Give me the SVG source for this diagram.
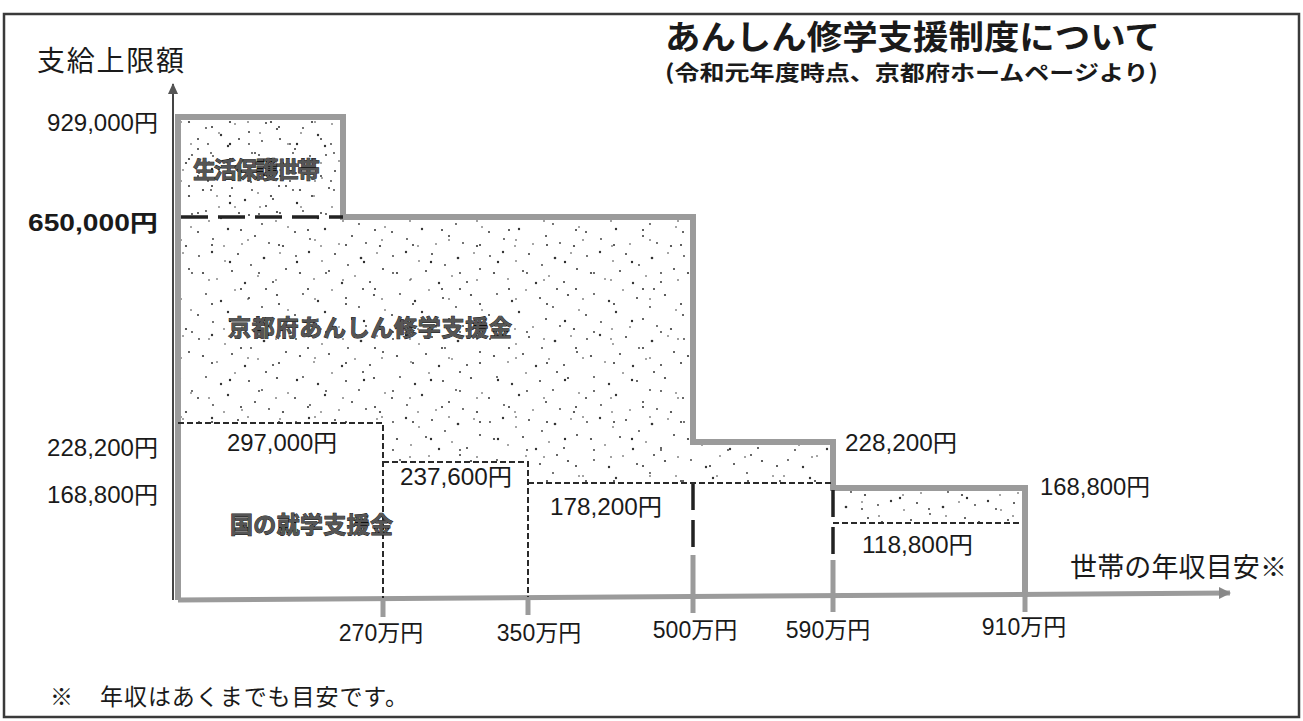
<svg xmlns="http://www.w3.org/2000/svg" width="1303" height="721" viewBox="0 0 1303 721">
<style>
.t{font-family:"Noto Sans CJK JP","Liberation Sans",sans-serif;fill:#1a1a1a}
.n{font-family:"Liberation Sans","Noto Sans CJK JP",sans-serif;fill:#1a1a1a;font-size:23px}
.lbl{font-family:"Noto Sans CJK JP",sans-serif;font-weight:bold;font-size:23px;fill:#555;stroke:#111;stroke-width:0.9px;paint-order:stroke}
.step{fill:none;stroke:#9b9b9b;stroke-width:6}
.tick{stroke:#9b9b9b;stroke-width:5}
.sd{fill:none;stroke:#2a2a2a;stroke-width:2;stroke-dasharray:6 3}
.ld{fill:none;stroke:#222;stroke-width:3.5;stroke-dasharray:27 10}
</style>
<defs>
<pattern id="dots" width="97" height="83" patternUnits="userSpaceOnUse">
<g fill="#333">
<circle cx="5" cy="7" r="0.9"/><circle cx="18" cy="3" r="1.2"/><circle cx="31" cy="12" r="0.8"/><circle cx="44" cy="5" r="1"/><circle cx="57" cy="16" r="0.9"/><circle cx="70" cy="9" r="1.3"/><circle cx="86" cy="4" r="0.8"/><circle cx="92" cy="20" r="1"/><circle cx="9" cy="24" r="1.1"/><circle cx="23" cy="30" r="0.8"/><circle cx="38" cy="22" r="1"/><circle cx="51" cy="34" r="1.2"/><circle cx="64" cy="27" r="0.8"/><circle cx="79" cy="33" r="1"/><circle cx="12" cy="45" r="0.9"/><circle cx="27" cy="52" r="1.2"/><circle cx="41" cy="41" r="0.8"/><circle cx="55" cy="49" r="1"/><circle cx="68" cy="58" r="0.9"/><circle cx="83" cy="46" r="1.1"/><circle cx="94" cy="61" r="0.8"/><circle cx="4" cy="66" r="1"/><circle cx="19" cy="73" r="0.9"/><circle cx="34" cy="63" r="1.2"/><circle cx="48" cy="78" r="0.8"/><circle cx="61" cy="70" r="1"/><circle cx="75" cy="77" r="0.9"/><circle cx="89" cy="80" r="1.1"/><circle cx="30" cy="80" r="0.8"/><circle cx="72" cy="40" r="1"/>
</g>
</pattern>
<pattern id="dots2" width="41" height="37" patternUnits="userSpaceOnUse">
<g fill="#333"><circle cx="6" cy="5" r="0.9"/><circle cx="25" cy="11" r="1.1"/><circle cx="14" cy="22" r="0.8"/><circle cx="34" cy="28" r="1"/><circle cx="3" cy="33" r="0.9"/></g>
</pattern>
<pattern id="dots3" width="67" height="59" patternUnits="userSpaceOnUse">
<g fill="#2a2a2a"><circle cx="11" cy="9" r="1"/><circle cx="47" cy="4" r="0.8"/><circle cx="29" cy="26" r="1.2"/><circle cx="58" cy="37" r="0.9"/><circle cx="8" cy="44" r="0.8"/><circle cx="40" cy="53" r="1"/></g>
</pattern>
<marker id="ahY" markerWidth="12" markerHeight="12" refX="10" refY="6" orient="auto" markerUnits="userSpaceOnUse"><path d="M0,1 L11,6 L0,11 z" fill="#555"/></marker>
<marker id="ahX" markerWidth="14" markerHeight="14" refX="11" refY="7" orient="auto" markerUnits="userSpaceOnUse"><path d="M0,1 L12,7 L0,13 z" fill="#888"/></marker>
</defs>
<rect x="0" y="0" width="1303" height="721" fill="#fff"/>
<rect id="frame" x="4" y="14" width="1295" height="703" fill="none" stroke="#3a3a3a" stroke-width="2.5"/>
<g id="region-kyoto">
<path d="M178,117 H343 V217 H693 V442 H833 V483 H528 V462 H383 V423 H178 Z" fill="url(#dots)"/>
<path d="M178,117 H343 V217 H693 V442 H833 V483 H528 V462 H383 V423 H178 Z" fill="url(#dots3)"/>
<path d="M833,488 H1025 V523 H833 Z" fill="url(#dots)"/>
<path d="M833,488 H1025 V523 H833 Z" fill="url(#dots3)"/>
</g>
<g id="region-seikatsuhogo">
<rect x="180" y="120" width="160" height="95" fill="url(#dots2)"/>
</g>
<g id="connectors">
<line x1="173" y1="600" x2="173" y2="84" stroke="#444" stroke-width="2" marker-end="url(#ahY)"/>
<line x1="178" y1="600" x2="1230" y2="593" stroke="#9b9b9b" stroke-width="5" marker-end="url(#ahX)"/>
<path class="step" d="M178,600 V117 H343 V217 H693 V442 H833 V488 H1025 V597"/>
<line class="tick" x1="383" y1="598" x2="383" y2="617"/>
<line class="tick" x1="528" y1="597" x2="528" y2="615"/>
<line class="tick" x1="693" y1="555" x2="693" y2="613"/>
<line class="tick" x1="833" y1="560" x2="833" y2="612"/>
<line class="tick" x1="1025" y1="592" x2="1025" y2="612"/>
<path class="ld" d="M181,217 H343"/>
<path class="ld" d="M693,483 V555"/>
<path class="ld" d="M833,490 V560"/>
<path class="sd" d="M178,423 H383 V598"/>
<path class="sd" d="M383,462 H528 V597"/>
<path class="sd" d="M528,483 H833"/>
<path class="sd" d="M833,523 H1020"/>
</g>
<g id="title">
<text class="t" x="665" y="49" font-size="33" font-weight="bold" textLength="495" lengthAdjust="spacingAndGlyphs">あんしん修学支援制度について</text>
<text class="t" x="665" y="80" font-size="21" font-weight="bold" textLength="493" lengthAdjust="spacingAndGlyphs">(令和元年度時点、京都府ホームページより)</text>
</g>
<g id="y-labels">
<text class="t" x="37" y="71" font-size="28" textLength="147">支給上限額</text>
<text class="n" x="47" y="131" textLength="111" lengthAdjust="spacingAndGlyphs">929,000円</text>
<text class="n" x="28" y="231" font-weight="bold" font-size="25" textLength="130" lengthAdjust="spacingAndGlyphs">650,000円</text>
<text class="n" x="47" y="456" textLength="111" lengthAdjust="spacingAndGlyphs">228,200円</text>
<text class="n" x="47" y="503" textLength="111" lengthAdjust="spacingAndGlyphs">168,800円</text>
</g>
<g id="labels">
<text class="lbl" x="193" y="178" textLength="127">生活保護世帯</text>
<text class="lbl" x="228" y="336" font-size="24" textLength="284">京都府あんしん修学支援金</text>
<text class="lbl" x="230" y="533" textLength="163">国の就学支援金</text>
<text class="n" x="227" y="451" textLength="110" lengthAdjust="spacingAndGlyphs">297,000円</text>
<text class="n" x="400" y="485" textLength="112" lengthAdjust="spacingAndGlyphs">237,600円</text>
<text class="n" x="550" y="515" textLength="112" lengthAdjust="spacingAndGlyphs">178,200円</text>
<text class="n" x="845" y="451" textLength="112" lengthAdjust="spacingAndGlyphs">228,200円</text>
<text class="n" x="1040" y="495" textLength="110" lengthAdjust="spacingAndGlyphs">168,800円</text>
<text class="n" x="862" y="553" textLength="111" lengthAdjust="spacingAndGlyphs">118,800円</text>
<text class="t" x="1070" y="577" font-size="27" textLength="217">世帯の年収目安※</text>
</g>
<g id="x-labels">
<text class="n" x="381" y="641" text-anchor="middle">270万円</text>
<text class="n" x="539" y="641" text-anchor="middle">350万円</text>
<text class="n" x="695" y="638" text-anchor="middle">500万円</text>
<text class="n" x="828" y="638" text-anchor="middle">590万円</text>
<text class="n" x="1024" y="635" text-anchor="middle">910万円</text>
</g>
<g id="footnote">
<text class="t" x="50" y="705" font-size="23">※</text>
<text class="t" x="100" y="705" font-size="23" textLength="308">年収はあくまでも目安です。</text>
</g>
</svg>
